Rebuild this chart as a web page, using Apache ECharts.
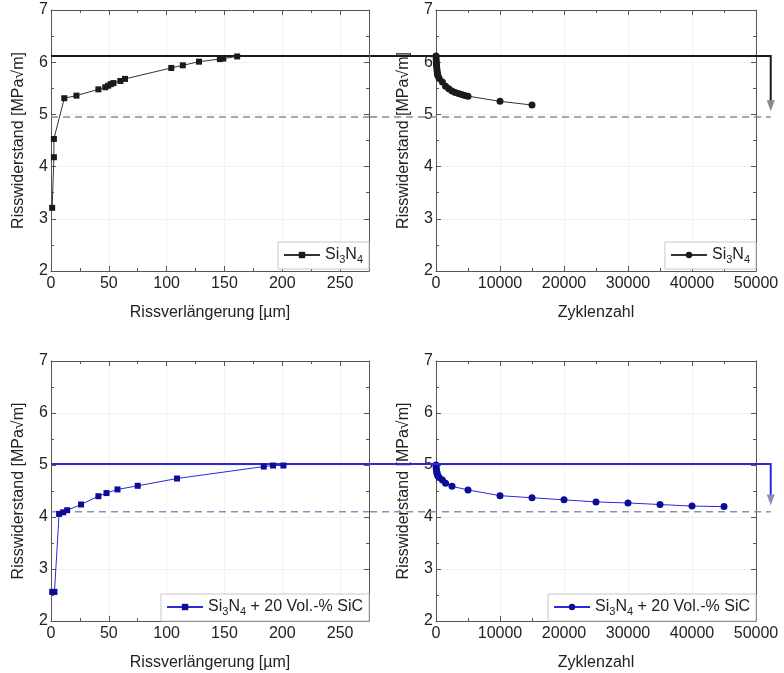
<!DOCTYPE html>
<html>
<head>
<meta charset="utf-8">
<script src="https://cdn.jsdelivr.net/npm/echarts@6/dist/echarts.min.js"></script>
<style>
  html, body { margin: 0; padding: 0; background: #fff; }
  #chart { width: 784px; height: 673px; }
</style>
</head>
<body>
<div id="chart"></div>
<script>
// Si3N4: R-Kurve (Risswiderstand über Rissverlängerung)
const crackExtSi3N4 = [1, 2.5, 2.5, 11.5, 22, 41, 47, 49.5, 51.7, 54, 60, 64, 104, 114, 128, 146, 149, 161];
const krCrackSi3N4 = [3.21, 4.18, 4.53, 5.31, 5.36, 5.48, 5.52, 5.55, 5.58, 5.60, 5.64, 5.68, 5.89, 5.94, 6.01, 6.06, 6.07, 6.11];
// Si3N4: Risswiderstand über Zyklenzahl
const cyclesSi3N4 = [0, 25, 50, 75, 100, 150, 200, 250, 300, 500, 1000, 1500, 2000, 2500, 3000, 3500, 4000, 4500, 5000, 10000, 15000];
const krCycSi3N4 = [6.12, 6.06, 6.01, 5.96, 5.92, 5.86, 5.81, 5.77, 5.74, 5.69, 5.62, 5.54, 5.49, 5.45, 5.42, 5.40, 5.38, 5.36, 5.35, 5.25, 5.18];
// Si3N4 + 20 Vol.-% SiC
const crackExtSiC = [1, 3, 7, 10.5, 14, 26, 41, 48, 57.5, 75, 109, 184, 192, 201];
const krCrackSiC = [2.56, 2.56, 4.06, 4.09, 4.13, 4.24, 4.40, 4.46, 4.53, 4.60, 4.74, 4.97, 4.99, 4.99];
const cyclesSiC = [0, 20, 50, 100, 150, 200, 300, 500, 1000, 1500, 2500, 5000, 10000, 15000, 20000, 25000, 30000, 35000, 40000, 45000];
const krCycSiC = [5.00, 4.96, 4.92, 4.88, 4.85, 4.82, 4.79, 4.76, 4.71, 4.65, 4.59, 4.52, 4.41, 4.37, 4.33, 4.29, 4.27, 4.24, 4.21, 4.20];

// Referenzniveaus (max. Risswiderstand und Schwelle) und Pfeil
const kMaxSi3N4 = 6.12, kThSi3N4 = 4.95, arrowTipSi3N4 = 5.06;
const kMaxSiC = 5.02, kThSiC = 4.10, arrowTipSiC = 4.22;
const crackMax = 275, cycMax = 50000;
const cycLeft = -10300, cycArrow = 52300;

const yTicks = [2, 3, 4, 5, 6, 7];

const AX = '#555';
const TXT = '#222';
const BLACK = '#1a1a1a';
const BLUE = '#2a2ad8';
const BLUE_DOT = '#0c0c96';
const GREY_DASH = '#8a8a8a';
const BLUE_DASH = '#8c8cba';

const legendNames = {
    s1: '{n|Si}{s|3}{n|N}{s|4}',
    s2: '{n|Si}{s|3}{n|N}{s|4}',
    c1: '{n|Si}{s|3}{n|N}{s|4}{n| + 20 Vol.-% SiC}',
    c2: '{n|Si}{s|3}{n|N}{s|4}{n| + 20 Vol.-% SiC}'
};

function zip(xs, ys) {
    return xs.map((x, i) => [x, ys[i]]);
}

const grids = [
    { left: 51, top: 10, width: 318, height: 261 },
    { left: 436, top: 10, width: 320, height: 261 },
    { left: 51, top: 361, width: 318, height: 260 },
    { left: 436, top: 361, width: 320, height: 260 }
];

function xAxes(gi, max, interval, name) {
    const common = {
        type: 'value', gridIndex: gi, min: 0, max: max, interval: interval,
        axisLine: { show: true, onZero: false, lineStyle: { color: AX, width: 1 } },
        axisTick: { show: true, inside: true, length: 5, lineStyle: { color: AX } },
        minorTick: { show: true, splitNumber: 2, length: 3, lineStyle: { color: AX } },
    };
    return [
        Object.assign({}, common, {
            position: 'bottom',
            name: name, nameLocation: 'middle', nameGap: 34,
            nameTextStyle: { fontSize: 16, color: TXT },
            axisLabel: { fontSize: 16, color: TXT, margin: 5, showMaxLabel: max === cycMax,
                formatter: v => String(v) },
            splitLine: { show: true, lineStyle: { color: '#f2f2f2' } }
        }),
        Object.assign({}, common, {
            position: 'top',
            axisLabel: { show: false },
            splitLine: { show: false }
        })
    ];
}

function yAxes(gi) {
    const common = {
        type: 'value', gridIndex: gi, min: 2, max: 7, interval: 1,
        axisLine: { show: true, onZero: false, lineStyle: { color: AX, width: 1 } },
        axisTick: { show: true, inside: true, length: 5, lineStyle: { color: AX } },
        minorTick: { show: true, splitNumber: 2, length: 3, lineStyle: { color: AX } },
    };
    return [
        Object.assign({}, common, {
            position: 'left',
            name: 'Risswiderstand [MPa√m]', nameLocation: 'middle', nameGap: 24,
            nameTextStyle: { fontSize: 16, color: TXT },
            axisLabel: { fontSize: 16, color: TXT, margin: 3, formatter: v => yTicks.includes(v) ? String(v) : '' },
            splitLine: { show: true, lineStyle: { color: '#f2f2f2' } }
        }),
        Object.assign({}, common, {
            position: 'right',
            axisLabel: { show: false },
            splitLine: { show: false }
        })
    ];
}

function refLine(gi, data, color, width, type) {
    return {
        type: 'line', xAxisIndex: gi * 2, yAxisIndex: gi * 2,
        data: data, symbol: 'none', silent: true,
        lineStyle: { color: color, width: width, type: type },
        z: 1
    };
}

function curve(gi, name, data, symbol, lineColor, dotColor, size) {
    return {
        name: name, type: 'line', xAxisIndex: gi * 2, yAxisIndex: gi * 2,
        data: data, symbol: symbol, symbolSize: size, showSymbol: true,
        lineStyle: { color: lineColor, width: 1 },
        itemStyle: { color: dotColor },
        z: 3
    };
}

function legend(name, right, bottom) {
    return {
        data: [name], right: right, bottom: bottom, orient: 'vertical',
        backgroundColor: '#fff', borderColor: '#c8c8c8', borderWidth: 1,
        padding: [5, 6, 4, 5], itemWidth: 36, itemHeight: 8, selectedMode: false,
        formatter: n => legendNames[n],
        textStyle: {
            color: TXT,
            rich: {
                n: { fontSize: 16, lineHeight: 20, color: TXT },
                s: { fontSize: 11, lineHeight: 11, verticalAlign: 'bottom', color: TXT }
            }
        },
        z: 10
    };
}

const chart = echarts.init(document.getElementById('chart'));
const option = {
    animation: false,
    textStyle: { fontFamily: 'Liberation Sans, Arial, sans-serif' },
    grid: grids,
    xAxis: [].concat(
        xAxes(0, crackMax, 50, 'Rissverlängerung [µm]'),
        xAxes(1, cycMax, 10000, 'Zyklenzahl'),
        xAxes(2, crackMax, 50, 'Rissverlängerung [µm]'),
        xAxes(3, cycMax, 10000, 'Zyklenzahl')
    ),
    yAxis: [].concat(yAxes(0), yAxes(1), yAxes(2), yAxes(3)),
    legend: [
        legend('s1', 415, 404),
        legend('s2', 28, 404),
        legend('c1', 415, 52),
        legend('c2', 28, 52)
    ],
    series: [
        // oben links
        refLine(0, [[0, kThSi3N4], [crackMax, kThSi3N4]], GREY_DASH, 1.5, [7, 5]),
        refLine(0, [[0, kMaxSi3N4], [crackMax, kMaxSi3N4]], BLACK, 2, 'solid'),
        curve(0, 's1', zip(crackExtSi3N4, krCrackSi3N4), 'rect', '#333', BLACK, 6),
        // oben rechts
        curve(1, 's2', zip(cyclesSi3N4, krCycSi3N4), 'circle', '#333', BLACK, 7),
        // unten links
        refLine(2, [[0, kThSiC], [crackMax, kThSiC]], BLUE_DASH, 1.5, [7, 5]),
        refLine(2, [[0, kMaxSiC], [crackMax, kMaxSiC]], BLUE, 2, 'solid'),
        curve(2, 'c1', zip(crackExtSiC, krCrackSiC), 'rect', BLUE, BLUE_DOT, 6),
        // unten rechts
        curve(3, 'c2', zip(cyclesSiC, krCycSiC), 'circle', BLUE, BLUE_DOT, 7)
    ]
};
option && chart.setOption(option);

// Linien, die über den Rand der rechten Diagramme hinausgehen (Übergang + Pfeil)
function px(gi, x, y) {
    return chart.convertToPixel({ xAxisIndex: gi * 2, yAxisIndex: gi * 2 }, [x, y]);
}
function overhang(gi, kMax, kTh, tip, color, dashColor) {
    const a = px(gi, cycLeft, kMax);
    const b = px(gi, cycArrow, kMax);
    const t = px(gi, cycArrow, tip);
    const d0 = px(gi, cycLeft, kTh);
    const d1 = px(gi, cycArrow, kTh);
    return [
        { type: 'polyline', z: 5, silent: true,
          shape: { points: [d0, d1] },
          style: { stroke: dashColor, lineWidth: 1.5, lineDash: [7, 5], fill: null } },
        { type: 'polyline', z: 6, silent: true,
          shape: { points: [a, b, [t[0], t[1] - 10]] },
          style: { stroke: color, lineWidth: 2, fill: null } },
        { type: 'polygon', z: 6, silent: true,
          shape: { points: [[t[0] - 4, t[1] - 11], [t[0] + 4, t[1] - 11], t] },
          style: { fill: dashColor } }
    ];
}
chart.setOption({
    graphic: [].concat(
        overhang(1, kMaxSi3N4, kThSi3N4, arrowTipSi3N4, BLACK, GREY_DASH),
        overhang(3, kMaxSiC, kThSiC, arrowTipSiC, BLUE, BLUE_DASH)
    )
});
</script>
</body>
</html>
